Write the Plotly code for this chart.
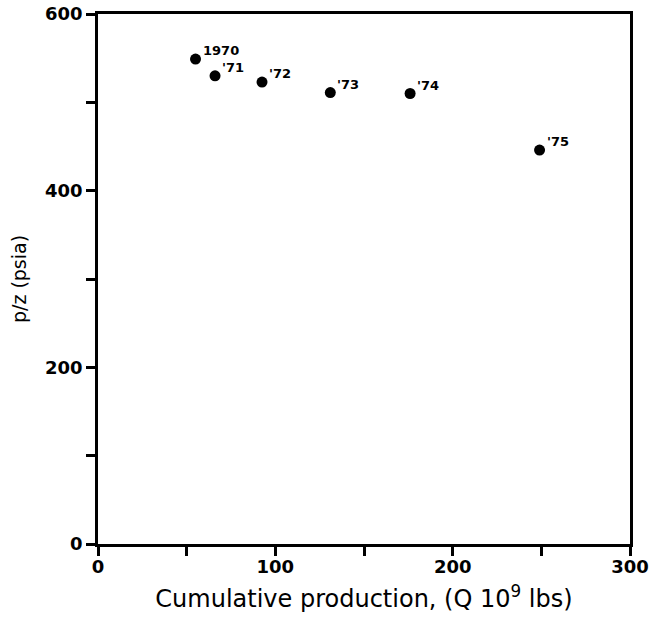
import plotly.graph_objects as go

years = ["1970", "'71", "'72", "'73", "'74", "'75"]
cum_prod = [55, 66, 92.5, 131, 176, 249]
pz = [549, 530, 523, 511, 510, 446]

x_tickvals = [0, 50, 100, 150, 200, 250, 300]
x_ticktext = ["0", "", "100", "", "200", "", "300"]
y_tickvals = [0, 100, 200, 300, 400, 500, 600]
y_ticktext = ["0", "", "200", "", "400", "", "600"]

font_family = "DejaVu Sans, Arial, sans-serif"

fig = go.Figure()
fig.add_trace(go.Scatter(
    x=cum_prod, y=pz, mode="markers",
    marker=dict(color="black", size=11),
    showlegend=False, hoverinfo="skip",
))

for xv, yv, label in zip(cum_prod, pz, years):
    fig.add_annotation(
        x=xv, y=yv, text=label, showarrow=False,
        xanchor="left", yanchor="bottom", xshift=5, yshift=-1,
        font=dict(family=font_family, size=13, color="black", weight="bold"),
    )

fig.update_layout(
    width=649, height=622,
    margin=dict(l=98, r=19, t=14, b=78),
    paper_bgcolor="white", plot_bgcolor="white",
    font=dict(family=font_family, color="black"),
    xaxis=dict(
        range=[0, 300], tickvals=x_tickvals, ticktext=x_ticktext,
        ticks="outside", ticklen=9, tickwidth=2.5, tickcolor="black",
        showline=True, linewidth=2.5, linecolor="black", mirror=True,
        showgrid=False, zeroline=False, automargin=False,
        ticklabeloverflow="allow", ticklabelstandoff=-4,
        tickfont=dict(size=18, family=font_family, color="black", weight="bold"),
        title=dict(text="Cumulative production, (Q 10<sup>9</sup> lbs)",
                   font=dict(size=24, family=font_family, color="black"),
                   standoff=14),
    ),
    yaxis=dict(
        range=[0, 600], tickvals=y_tickvals, ticktext=y_ticktext,
        ticks="outside", ticklen=9, tickwidth=2.5, tickcolor="black",
        showline=True, linewidth=2.5, linecolor="black", mirror=True,
        showgrid=False, zeroline=False, automargin=False,
        ticklabeloverflow="allow",
        tickfont=dict(size=18, family=font_family, color="black", weight="bold"),
        title=dict(text="p/z (psia)",
                   font=dict(size=19, family=font_family, color="black"),
                   standoff=14),
    ),
)

fig.write_html("out.html",
               config={"displayModeBar": False},
               post_script="document.body.style.margin='0';")
